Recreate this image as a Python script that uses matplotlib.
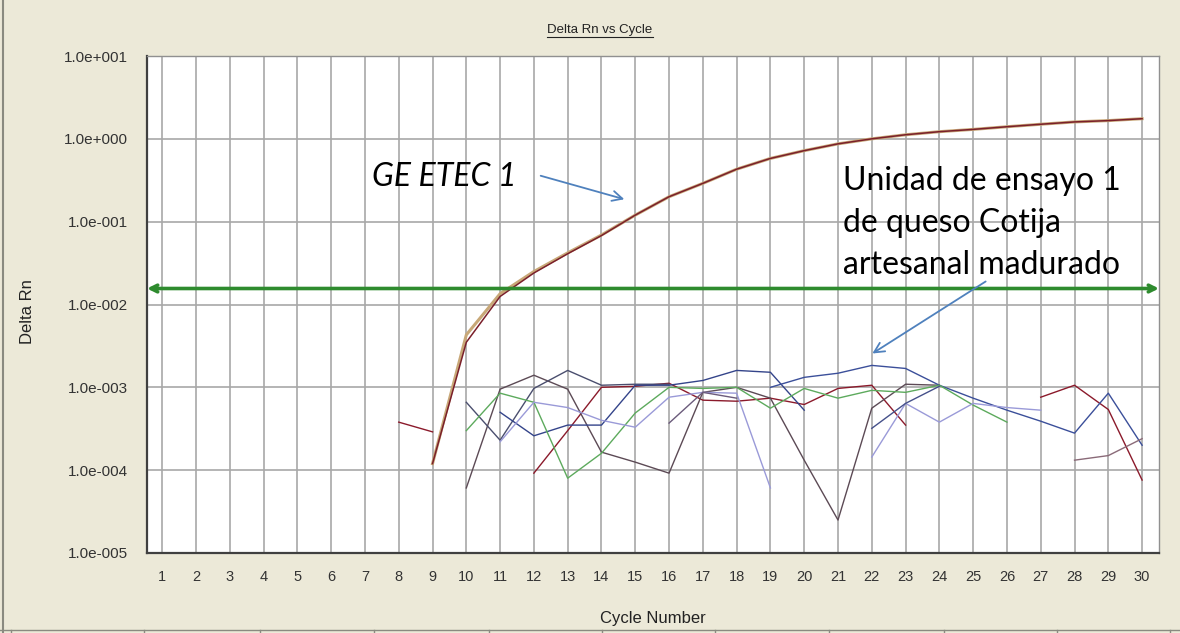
import numpy as np
import matplotlib
matplotlib.use('Agg')
import matplotlib.pyplot as plt
from matplotlib.lines import Line2D

nan = np.nan
cycles = np.arange(1, 31)

# amplification curve (two replicates), starts at cycle 9
amp_cycles = np.arange(9, 31)
amp_a = [1.2e-4, 3.5e-3, 1.25e-2, 2.4e-2, 4.1e-2, 6.8e-2, 0.12, 0.20, 0.29, 0.43, 0.58,
         0.72, 0.87, 1.0, 1.12, 1.22, 1.30, 1.40, 1.50, 1.60, 1.66, 1.75]
amp_b = [1.2e-4, 4.3e-3, 1.35e-2, 2.5e-2, 4.2e-2, 6.9e-2, 0.12, 0.20, 0.29, 0.43, 0.58,
         0.72, 0.87, 1.0, 1.12, 1.22, 1.30, 1.40, 1.50, 1.60, 1.66, 1.75]

# negative samples (noise), one value per cycle 1..30, nan = no point
red = [nan]*7 + [3.8e-4, 2.9e-4, nan, nan, 9.2e-5, 3.0e-4, 1.0e-3, 1.03e-3, 1.12e-3, 7.0e-4,
                 6.8e-4, 7.4e-4, 6.2e-4, 9.7e-4, 1.06e-3, 3.5e-4, nan, nan, nan, 7.6e-4,
                 1.06e-3, 5.4e-4, 7.6e-5]
charcoal = [nan]*9 + [6.1e-5, 9.5e-4, 1.40e-3, 9.5e-4, 1.65e-4, 1.25e-4, 9.2e-5, 8.7e-4,
                      1.0e-3, 7.4e-4, 1.32e-4, 2.5e-5, 5.6e-4, 1.09e-3, 1.06e-3] + [nan]*6
slate = [nan]*9 + [6.6e-4, 2.3e-4, 9.7e-4, 1.60e-3, 1.06e-3, 1.09e-3, 1.09e-3] + [nan]*14
navy = [nan]*10 + [5.0e-4, 2.6e-4, 3.5e-4, 3.5e-4, 1.06e-3, 1.06e-3, 1.21e-3, 1.60e-3,
                   1.52e-3, 5.3e-4] + [nan]*10
blue = [nan]*18 + [1.0e-3, 1.32e-3, 1.48e-3, 1.84e-3, 1.69e-3, 1.06e-3, 7.4e-4, 5.3e-4,
                   3.9e-4, 2.8e-4, 8.5e-4, 2.0e-4]
green = [nan]*9 + [3.0e-4, 8.5e-4, 6.6e-4, 8.0e-5, 1.6e-4, 4.9e-4, 1.0e-3, 9.7e-4, 1.0e-3,
                   5.6e-4, 9.7e-4, 7.4e-4, 9.2e-4, 8.7e-4, 1.06e-3, 6.1e-4, 3.8e-4] + [nan]*4
lavender = [nan]*10 + [2.2e-4, 6.6e-4, 5.7e-4, 4.0e-4, 3.3e-4, 7.6e-4, 8.7e-4, 8.5e-4, 6.1e-5,
                       nan, nan, 1.44e-4, 6.4e-4, 3.8e-4, 6.4e-4, 5.7e-4, 5.3e-4] + [nan]*3
purplegray = [nan]*15 + [3.7e-4, 8.7e-4, 7.4e-4] + [nan]*12
mauve = [nan]*27 + [1.32e-4, 1.5e-4, 2.4e-4]
navy2 = [nan]*21 + [3.2e-4, 6.4e-4, 1.03e-3] + [nan]*6

noise = [(red, '#8B1A2B'), (charcoal, '#5C4A55'), (slate, '#4A4E6E'), (navy, '#34448A'),
         (blue, '#3B4F9A'), (green, '#5DAA5D'), (lavender, '#9A9AD8'),
         (purplegray, '#6B5B7B'), (mauve, '#8A6A78'), (navy2, '#45508A')]

threshold = 0.0156
ytick_vals = [1e-5, 1e-4, 1e-3, 1e-2, 1e-1, 1e0, 1e1]
ytick_labels = ['1.0e-005', '1.0e-004', '1.0e-003', '1.0e-002', '1.0e-001', '1.0e+000', '1.0e+001']

W, H = 1180, 633
fig = plt.figure(figsize=(W / 100, H / 100), dpi=100, facecolor='#ECE9D8')
ax = fig.add_axes([147 / W, 1 - 553 / H, (1159 - 147) / W, (553 - 56) / H])
ax.set_facecolor('white')
ax.set_yscale('log')
ax.set_xlim(0.55, 30.5)
ax.set_ylim(1e-5, 1e1)

ax.set_xticks(cycles)
ax.set_xticklabels([str(c) for c in cycles])
ax.set_yticks(ytick_vals)
ax.set_yticklabels(ytick_labels)
ax.yaxis.set_minor_locator(matplotlib.ticker.NullLocator())
ax.tick_params(length=0, labelsize=11, labelcolor='#333333', pad=14, labelfontfamily='Liberation Sans')
ax.tick_params(axis='x', pad=12, labelsize=10.5)
ax.grid(True, color='#A8A8A8', linewidth=1.2)
ax.set_axisbelow(True)
for s in ['left', 'bottom']:
    ax.spines[s].set_color('#404040')
    ax.spines[s].set_linewidth(1.6)
for s in ['top', 'right']:
    ax.spines[s].set_color('#909090')
    ax.spines[s].set_linewidth(1.0)

for vals, col in noise:
    ax.plot(cycles, vals, color=col, linewidth=1.0)

ax.plot(amp_cycles, amp_b, color='#C8A878', linewidth=2.2)
ax.plot(amp_cycles, amp_a, color='#7A1F2A', linewidth=1.1)

# threshold line with arrow heads on both ends
ax.annotate('', xy=(1.0, threshold), xytext=(0.0, threshold),
            xycoords=ax.get_yaxis_transform(), textcoords=ax.get_yaxis_transform(),
            arrowprops=dict(arrowstyle='<->', color='#2E8B2E', lw=2.6, mutation_scale=12,
                            shrinkA=0, shrinkB=0))

fig.text(653 / W, 1 - 618 / H, 'Cycle Number', fontsize=12, family='Liberation Sans',
         color='#222222', ha='center', va='center')
fig.text(28 / W, 1 - 312 / H, 'Delta Rn', rotation=90, fontsize=12, family='Liberation Sans',
         color='#222222', ha='center', va='center')

title = fig.text(600 / W, 1 - 30 / H, 'Delta Rn vs Cycle', fontsize=9.5, family='Liberation Sans',
                 color='#222222', ha='center', va='center')

# annotations
ffrac = lambda x, y: (x / W, 1 - y / H)
fig.text(*ffrac(516, 177), 'GE ETEC 1', fontsize=23, style='italic', family='Lato',
         ha='right', va='center', color='black')
fig.text(*ffrac(843, 223), 'Unidad de ensayo 1\nde queso Cotija\nartesanal madurado',
         fontsize=23, family='Lato', ha='left', va='center', linespacing=1.5, color='black')
fig.add_artist(matplotlib.patches.FancyArrowPatch(ffrac(538, 175), ffrac(627, 200),
               transform=fig.transFigure, arrowstyle='->', mutation_scale=18,
               color='#4F81BD', lw=1.3))
fig.add_artist(matplotlib.patches.FancyArrowPatch(ffrac(988, 280), ffrac(870, 355),
               transform=fig.transFigure, arrowstyle='->', mutation_scale=18,
               color='#4F81BD', lw=1.3))

# window frame remnants
fig.add_artist(Line2D([3 / W, 3 / W], [0, 1], color='#8A8A80', lw=1.5))
fig.add_artist(Line2D([0, 1], [1 - 630 / H, 1 - 630 / H], color='#8A8A80', lw=1.0))
for px in [11, 144, 260, 374, 489, 602, 715, 829, 944, 1057, 1170]:
    fig.add_artist(Line2D([px / W, px / W], [1 - 630 / H, 0], color='#8A8A80', lw=1.0))

# underline title
fig.canvas.draw()
bb = title.get_window_extent().transformed(fig.transFigure.inverted())
fig.add_artist(Line2D([bb.x0, bb.x1], [bb.y0 - 0.002, bb.y0 - 0.002], color='#222222', lw=0.8))

fig.savefig('out.png', dpi=100, facecolor=fig.get_facecolor())
